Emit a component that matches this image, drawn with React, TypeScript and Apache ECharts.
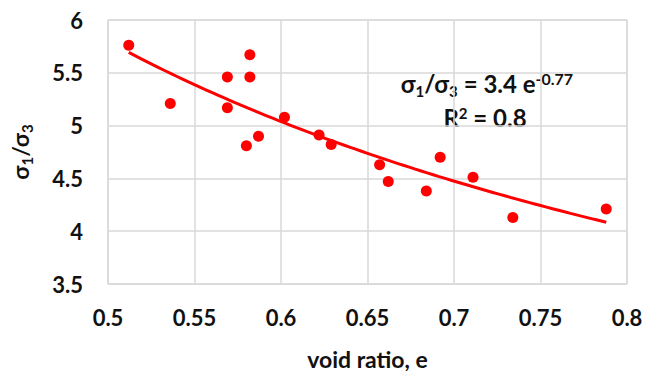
import React, { useEffect, useRef } from "react";
import * as echarts from "echarts";

// Measured samples: void ratio e and principal stress ratio σ1/σ3
const voidRatio = [
  0.512, 0.536, 0.569, 0.569, 0.582, 0.582, 0.58, 0.587, 0.602,
  0.622, 0.629, 0.657, 0.662, 0.684, 0.692, 0.711, 0.734, 0.788,
];
const stressRatio = [
  5.76, 5.21, 5.46, 5.17, 5.67, 5.46, 4.81, 4.9, 5.08,
  4.91, 4.82, 4.63, 4.47, 4.38, 4.7, 4.51, 4.13, 4.21,
];

// Power-law trendline coefficients, σ1/σ3 = A · e^B
const trendA = 3.4;
const trendB = -0.77;
const trendR2 = 0.8;

const xTicks = { min: 0.5, max: 0.8, interval: 0.05 };
const yTicks = { min: 3.5, max: 6, interval: 0.5 };

const FONT = "Lato";

export default function App() {
  const ref = useRef<HTMLDivElement>(null);

  useEffect(() => {
    if (!ref.current) return;
    const chart = echarts.init(ref.current, undefined, { renderer: "svg" });

    const points = voidRatio.map((x, i) => [x, stressRatio[i]]);
    const xLo = Math.min(...voidRatio);
    const xHi = Math.max(...voidRatio);
    const steps = 40;
    const trend: number[][] = [];
    for (let k = 0; k <= steps; k++) {
      const x = xLo + ((xHi - xLo) * k) / steps;
      trend.push([x, trendA * Math.pow(x, trendB)]);
    }

    const gridColor = "#d9d9d9";
    const labelStyle = {
      fontFamily: FONT,
      fontWeight: "bold" as const,
      fontSize: 22,
      color: "#111",
    };

    chart.setOption({
      animation: false,
      grid: {
        left: 107,
        top: 20,
        right: 33,
        bottom: 84,
        show: true,
        borderColor: gridColor,
        borderWidth: 1,
        backgroundColor: "transparent",
      },
      xAxis: {
        type: "value",
        min: xTicks.min,
        max: xTicks.max,
        interval: xTicks.interval,
        axisLine: { show: true, lineStyle: { color: gridColor, width: 1 } },
        axisTick: { show: false },
        splitLine: { show: true, lineStyle: { color: gridColor, width: 1.5 } },
        axisLabel: { ...labelStyle, margin: 22 },
        name: "void ratio, e",
        nameLocation: "middle",
        nameGap: 63,
        nameTextStyle: { ...labelStyle, fontSize: 23 },
      },
      yAxis: {
        type: "value",
        min: yTicks.min,
        max: yTicks.max,
        interval: yTicks.interval,
        axisLine: { show: true, lineStyle: { color: gridColor, width: 1 } },
        axisTick: { show: false },
        splitLine: { show: true, lineStyle: { color: gridColor, width: 1.5 } },
        axisLabel: { ...labelStyle, margin: 25 },
        name: "{m|σ}{s|1}{m|/σ}{s|3}",
        nameLocation: "middle",
        nameGap: 77,
        nameRotate: 90,
        nameTextStyle: {
          ...labelStyle,
          rich: {
            m: { ...labelStyle, fontSize: 23, verticalAlign: "bottom" },
            s: { ...labelStyle, fontSize: 15, verticalAlign: "bottom", padding: [0, 0, -3, 0] },
          },
        },
      },
      graphic: [
        {
          type: "text",
          x: 487,
          y: 83,
          style: {
            text: "{m|σ}{s|1}{m|/σ}{s|3}{m| = " + trendA + " e}{p|" + trendB + "}",
            align: "center",
            verticalAlign: "middle",
            fill: "#111",
            rich: {
              m: { ...labelStyle, fontSize: 24, verticalAlign: "bottom" },
              s: { ...labelStyle, fontSize: 15, verticalAlign: "bottom", padding: [0, 0, -3, 0] },
              p: { ...labelStyle, fontSize: 16, verticalAlign: "top", padding: [0, 0, 9, 0] },
            },
          },
        },
        {
          type: "text",
          x: 485,
          y: 117,
          style: {
            text: "{m|R}{p|2}{m| = " + trendR2 + "}",
            align: "center",
            verticalAlign: "middle",
            fill: "#111",
            rich: {
              m: { ...labelStyle, fontSize: 24, verticalAlign: "bottom" },
              p: { ...labelStyle, fontSize: 15, verticalAlign: "top", padding: [0, 0, 9, 0] },
            },
          },
        },
      ],
      series: [
        {
          type: "line",
          data: trend,
          showSymbol: false,
          smooth: true,
          lineStyle: { color: "#ff0000", width: 3 },
          z: 2,
        },
        {
          type: "scatter",
          data: points,
          symbol: "circle",
          symbolSize: 11,
          itemStyle: { color: "#ff0000", opacity: 1 },
          z: 3,
        },
      ],
    });

    return () => chart.dispose();
  }, []);

  return (
    <div
      ref={ref}
      style={{ position: "fixed", left: 0, top: 0, width: 660, height: 375, background: "#fff" }}
    />
  );
}
